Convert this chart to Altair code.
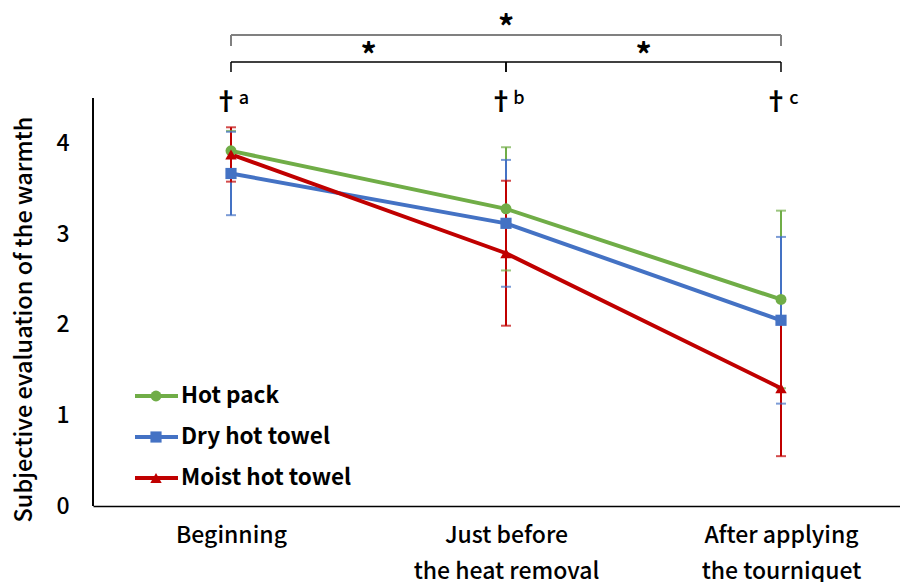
import json
import altair as alt
import pandas as pd

# ---------------- data ----------------
categories = ["Beginning", "Just before|the heat removal", "After applying|the tourniquet"]
series = ["Hot pack", "Dry hot towel", "Moist hot towel"]
colors = ["#70AD47", "#4472C4", "#C00000"]
shapes = ["circle", "square", "triangle-up"]
marker_sizes = [120, 130, 190]

hot_pack_mean = [3.92, 3.28, 2.28]
hot_pack_sd = [0.22, 0.68, 0.98]
dry_towel_mean = [3.67, 3.12, 2.05]
dry_towel_sd = [0.46, 0.70, 0.92]
moist_towel_mean = [3.88, 2.79, 1.30]
moist_towel_sd = [0.30, 0.80, 0.75]

y_ticks = [0, 1, 2, 3, 4]
dagger_letters = ["a", "b", "c"]
bracket_from = [0, 0, 1]
bracket_to = [2, 1, 2]
bracket_level = [0, 1, 1]
bracket_mark = ["*", "*", "*"]

FONT = "Noto Sans CJK JP"

# ---------------- tables ----------------
rows = []
for s, means, sds in zip(series,
                         [hot_pack_mean, dry_towel_mean, moist_towel_mean],
                         [hot_pack_sd, dry_towel_sd, moist_towel_sd]):
    for i, (m, sd) in enumerate(zip(means, sds)):
        rows.append({"series": s, "idx": i, "mean": m, "lo": m - sd, "hi": m + sd})
df = pd.DataFrame(rows)

df_leg = pd.DataFrame({"series": series})
df_br = pd.DataFrame({"from": bracket_from, "to": bracket_to,
                      "level": bracket_level, "mark": bracket_mark})
df_let = pd.DataFrame({"idx": list(range(len(dagger_letters))), "letter": dagger_letters})

# ---------------- scales / axes ----------------
W, H = 807, 498
xs = alt.Scale(domain=[-0.5018, -0.5018 + W / 275], nice=False, zero=False)
ys = alt.Scale(domain=[0, H / 90.6], nice=False, zero=False)
cs = alt.Scale(domain=series, range=colors)
ss = alt.Scale(domain=series, range=shapes)
zs = alt.Scale(domain=series, range=marker_sizes)

label_arrays = [c.split("|") for c in categories]
label_expr = json.dumps(label_arrays) + "[datum.value]"

x_axis = alt.Axis(values=[0, 1, 2], labelExpr=label_expr, title=None,
                  domain=True, domainColor="#000000", domainWidth=1.5,
                  ticks=False, grid=False, labelFont=FONT, labelFontSize=23,
                  labelColor="#000000", labelBaseline="top", labelPadding=18,
                  labelLineHeight=36, labelFlush=False, labelAlign="center",
                  labelFontWeight=500, labelLimit=0, labelOverlap=False)
y_axis = alt.Axis(values=y_ticks, title="Subjective evaluation of the warmth",
                  domain=False, ticks=False, grid=False, labelFont=FONT,
                  labelFontSize=23, labelColor="#000000", labelPadding=24,
                  labelFontWeight=500,
                  titleFont=FONT, titleFontSize=23.5, titleFontWeight=500,
                  titleColor="#000000", titleX=-69, titleY=311, titleAngle=-90,
                  titleAlign="center", titleBaseline="middle")


def X(field):
    return alt.X(f"{field}:Q", scale=xs, axis=x_axis)


def Y(field):
    return alt.Y(f"{field}:Q", scale=ys, axis=y_axis)


color = alt.Color("series:N", scale=cs, legend=None)
shape = alt.Shape("series:N", scale=ss, legend=None)
size = alt.Size("series:N", scale=zs, legend=None)

base = alt.Chart(df)

err_rule = base.mark_rule(strokeWidth=2).encode(
    x=X("idx"), y=Y("lo"), y2="hi:Q", color=color)
err_caps = base.transform_fold(["lo", "hi"], as_=["k", "v"]).mark_tick(
    orient="horizontal", thickness=2, size=10).encode(
    x=X("idx"), y=Y("v"), color=color)
lines = base.mark_line(strokeWidth=4).encode(
    x=X("idx"), y=Y("mean"), color=color, detail="series:N")
points = base.mark_point(filled=True, opacity=1).encode(
    x=X("idx"), y=Y("mean"), color=color, shape=shape, size=size)

y_domain_line = alt.Chart(df_leg).mark_rule(color="#000000", strokeWidth=1.5).encode(
    x=alt.value(0), y=alt.value(90), y2=alt.value(H))

# brackets
layers_br = []
for level, y_h, y_b, col, width, y_star in [(0, 27, 38, "#808080", 2, 21),
                                            (1, 54, 64, "#000000", 1.5, 49)]:
    b = alt.Chart(df_br).transform_filter(alt.datum.level == level)
    layers_br.append(b.mark_rule(color=col, strokeWidth=width).encode(
        x=X("from"), x2="to:Q", y=alt.value(y_h)))
    for end in ["from", "to"]:
        layers_br.append(b.mark_rule(color=col, strokeWidth=width).encode(
            x=X(end), y=alt.value(y_h), y2=alt.value(y_b)))
    layers_br.append(b.transform_calculate(mid="(datum.from + datum.to) / 2").mark_text(
        font=FONT, fontSize=32, fontWeight="bold", color="#000000",
        baseline="middle", align="center").encode(
        x=X("mid"), y=alt.value(y_star), text="mark:N"))

daggers = alt.Chart(df_let).mark_text(
    text="\u2020", font=FONT, fontSize=25, fontWeight="bold", color="#000000",
    baseline="middle", align="center", dx=-5).encode(
    x=X("idx"), y=alt.value(94))
letters = alt.Chart(df_let).mark_text(
    font=FONT, fontSize=18, fontWeight=500, color="#000000",
    baseline="middle", align="center", dx=13).encode(
    x=X("idx"), y=alt.value(91), text="letter:N")

# manual legend
leg_layers = []
for i, s in enumerate(series):
    yy = 388 + 41 * i
    lb = alt.Chart(df_leg).transform_filter(alt.datum.series == s)
    leg_layers.append(lb.mark_rule(strokeWidth=4).encode(
        x=alt.value(42), x2=alt.value(85), y=alt.value(yy), color=color))
    leg_layers.append(lb.mark_point(filled=True, opacity=1).encode(
        x=alt.value(63), y=alt.value(yy), color=color, shape=shape, size=size))
    leg_layers.append(lb.mark_text(font=FONT, fontSize=22.5, fontWeight="bold",
                                   color="#000000", align="left",
                                   baseline="middle").encode(
        x=alt.value(88), y=alt.value(yy), text="series:N"))

chart = alt.layer(
    err_rule, err_caps, lines, points, y_domain_line,
    *layers_br, daggers, letters, *leg_layers
).properties(
    width=W, height=H,
    padding={"left": 85, "top": 0, "right": 0, "bottom": 76},
    autosize=alt.AutoSizeParams(type="none"),
    background="white",
).configure_view(stroke=None)

chart.save("out.html", embed_options={"renderer": "svg", "actions": False})
